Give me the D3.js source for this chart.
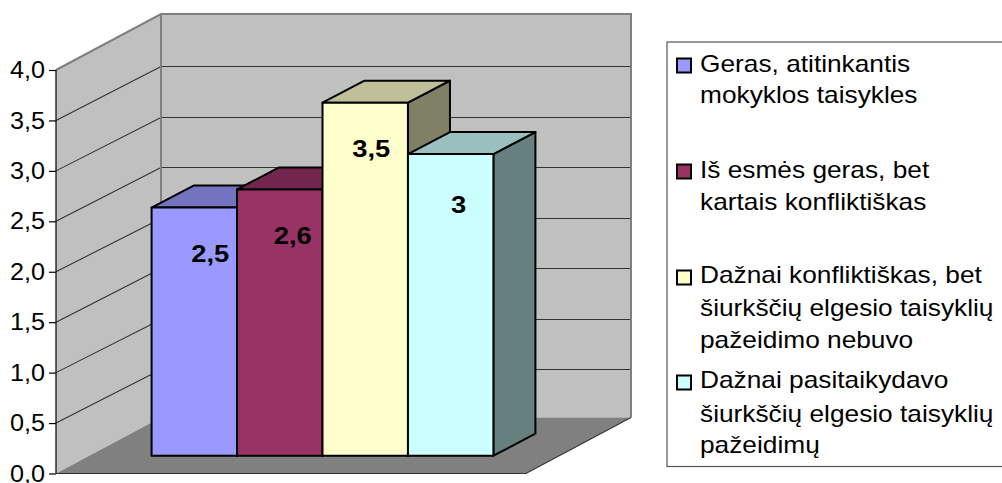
<!DOCTYPE html>
<html><head><meta charset="utf-8">
<script src="https://cdn.jsdelivr.net/npm/d3@7/dist/d3.min.js"></script>
<style>html,body{margin:0;padding:0;background:#fff;overflow:hidden}svg{display:block}
text{font-family:"Liberation Sans",Arial,sans-serif;fill:#000}</style></head><body>
<script>
const categories = ["Geras, atitinkantis mokyklos taisykles","Iš esmės geras, bet kartais konfliktiškas","Dažnai konfliktiškas, bet šiurkščių elgesio taisyklių pažeidimo nebuvo","Dažnai pasitaikydavo šiurkščių elgesio taisyklių pažeidimų"];
const values = [2.46, 2.64, 3.5, 2.99];
const valueLabels = ["2,5","2,6","3,5","3"];
const colors = ["#9999FF","#993366","#FFFFCC","#CCFFFF"];
const tickValues = [0,0.5,1,1.5,2,2.5,3,3.5,4];
const legendLines = [
  ["Geras, atitinkantis","mokyklos taisykles"],
  ["Iš esmės geras, bet","kartais konfliktiškas"],
  ["Dažnai konfliktiškas, bet","šiurkščių elgesio taisyklių","pažeidimo nebuvo"],
  ["Dažnai pasitaikydavo","šiurkščių elgesio taisyklių","pažeidimų"]];

const W=1002,H=483;
const x0=56,xEnd=526,yZero=473.5,yTop=70;
const wallDx=105,wallDy=56,gridDy=54;
const barOffX=31.5,barOffY=17.8,barDx=42,barDy=22;
const labelNudge=[[16,54],[13,55],[6,54.5],[8,59.3]];
const legendBaselines=[[72,103],[178,210],[283,316,348],[388,422,453]];
const legendKeyY=[65,171,277,382];

const svg=d3.select("body").append("svg").attr("width",W).attr("height",H);
const y=d3.scaleLinear().domain([0,4]).range([yZero,yTop]);
const x=d3.scaleBand().domain(categories).range([x0+barOffX,xEnd+barOffX]).paddingInner(0).paddingOuter(0.75);
const poly=p=>p.map(d=>d.join(",")).join(" ");

svg.append("polygon").attr("points",poly([[x0,y(0)],[x0,y(4)],[x0+wallDx,y(4)-wallDy],[x0+wallDx,y(0)-wallDy]])).attr("fill","#C0C0C0");
svg.append("polygon").attr("points",poly([[x0+wallDx,y(4)-wallDy],[xEnd+wallDx,y(4)-wallDy],[xEnd+wallDx,y(0)-wallDy],[x0+wallDx,y(0)-wallDy]])).attr("fill","#C0C0C0");
svg.append("polygon").attr("points",poly([[x0,y(0)],[x0+wallDx,y(0)-wallDy],[xEnd+wallDx,y(0)-wallDy],[xEnd,y(0)]])).attr("fill","#808080");

const grid=svg.append("g").attr("fill","none").attr("stroke","#333");
tickValues.filter(v=>v>0&&v<4).forEach(v=>{
  const yb=Math.round(y(v)-gridDy)+0.5;
  grid.append("line").attr("x1",x0).attr("y1",y(v)).attr("x2",x0+wallDx).attr("y2",yb).attr("stroke-width",1.1);
  grid.append("line").attr("x1",x0+wallDx).attr("y1",yb).attr("x2",xEnd+wallDx).attr("y2",yb).attr("stroke-width",1);
});
svg.append("polyline").attr("fill","none").attr("stroke","#808080").attr("stroke-width",2)
 .attr("points",poly([[x0,y(4)],[x0+wallDx,y(4)-wallDy],[xEnd+wallDx,y(4)-wallDy],[xEnd+wallDx,y(0)-wallDy]]));
svg.append("line").attr("x1",x0+wallDx).attr("x2",x0+wallDx).attr("y1",y(4)-wallDy).attr("y2",y(0)-wallDy).attr("stroke","#808080").attr("stroke-width",2);
svg.append("polyline").attr("fill","none").attr("stroke","#333").attr("stroke-width",1.2)
 .attr("points",poly([[x0,y(0)],[xEnd,y(0)],[xEnd+wallDx,y(0)-wallDy]]));

const shade=(c,k)=>{const r=d3.rgb(c);return d3.rgb(r.r*k,r.g*k,r.b*k).formatHex();};
const bars=svg.append("g").attr("stroke","#000").attr("stroke-width",2).attr("stroke-linejoin","round");
const base=y(0)-barOffY;
const h=v=>y(0)-y(v);
categories.forEach((c,i)=>{
  const l=x(c),r=l+x.bandwidth(),t=base-h(values[i]);
  bars.append("polygon").attr("fill",shade(colors[i],0.5)).attr("points",poly([[r,base],[r,t],[r+barDx,t-barDy],[r+barDx,base-barDy]]));
  bars.append("polygon").attr("fill",shade(colors[i],0.75)).attr("points",poly([[l,t],[l+barDx,t-barDy],[r+barDx,t-barDy],[r,t]]));
  bars.append("rect").attr("fill",colors[i]).attr("x",l).attr("y",t).attr("width",x.bandwidth()).attr("height",h(values[i]));
});
categories.forEach((c,i)=>{
  const cx=x(c)+x.bandwidth()/2+labelNudge[i][0], by=base-h(values[i])+labelNudge[i][1];
  svg.append("text").attr("text-anchor","middle").attr("font-weight","bold").attr("font-size",24)
    .attr("transform",`translate(${cx},${by}) scale(1.14,1)`).text(valueLabels[i]);
});
const fmt=d=>d3.format(".1f")(d).replace(".",",");
const ax=svg.append("g").attr("transform",`translate(${x0},0)`).call(d3.axisLeft(y).tickValues(tickValues).tickFormat(fmt).tickSize(7).tickPadding(5));
ax.selectAll("path,line").attr("stroke","#000").attr("stroke-width",1.2);
ax.select(".domain").attr("d",`M0,${y(4)}V${y(0)}`);
ax.selectAll("text").attr("font-size",24).attr("fill","#000").attr("x",0).attr("dy","0.32em")
  .attr("transform","translate(-11,0) scale(1.05,1)").style("font-family",'"Liberation Sans",Arial,sans-serif');

svg.append("rect").attr("x",667).attr("y",42).attr("width",400).attr("height",424.5).attr("fill","#fff").attr("stroke","#555").attr("stroke-width",1.2);
categories.forEach((c,i)=>{
  svg.append("rect").attr("x",677).attr("y",legendKeyY[i]-6.5).attr("width",14).attr("height",14).attr("fill",colors[i]).attr("stroke","#000").attr("stroke-width",2);
  legendLines[i].forEach((s,j)=>{
    svg.append("text").attr("font-size",24).attr("transform",`translate(700,${legendBaselines[i][j]}) scale(1.095,1)`).text(s);
  });
});
</script></body></html>
